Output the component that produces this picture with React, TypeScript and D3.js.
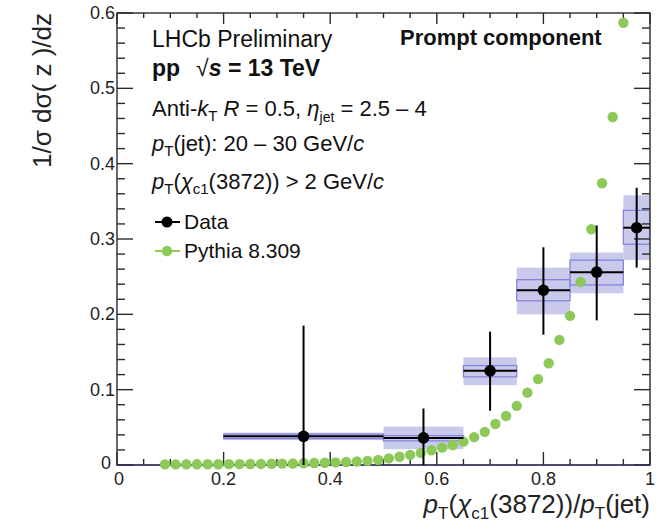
import React from 'react';
import * as d3 from 'd3';

// ---------- data ----------
const binLo = [0.2, 0.5, 0.65, 0.75, 0.85, 0.95];
const binHi = [0.5, 0.65, 0.75, 0.85, 0.95, 1.0];
const dataX = [0.35, 0.575, 0.7, 0.8, 0.9, 0.975];
const dataY = [0.038, 0.036, 0.125, 0.232, 0.256, 0.315];
const statLo = [0.0, 0.0, 0.072, 0.173, 0.192, 0.262];
const statHi = [0.185, 0.075, 0.177, 0.289, 0.318, 0.368];
const sysLo = [0.033, 0.021, 0.106, 0.2, 0.228, 0.272];
const sysHi = [0.043, 0.051, 0.143, 0.262, 0.282, 0.358];
const sys2Lo = [0.035, 0.032, 0.117, 0.218, 0.239, 0.293];
const sys2Hi = [0.041, 0.039, 0.132, 0.246, 0.272, 0.338];

const pythiaX = [
  0.09, 0.11, 0.13, 0.15, 0.17, 0.19, 0.21, 0.23, 0.25, 0.27, 0.29,
  0.31, 0.33, 0.35, 0.37, 0.39, 0.41, 0.43, 0.45, 0.47, 0.49,
  0.51, 0.53, 0.55, 0.57, 0.59, 0.61, 0.63, 0.65, 0.67, 0.69,
  0.71, 0.73, 0.75, 0.77, 0.79, 0.81, 0.83, 0.85, 0.87, 0.89,
  0.91, 0.93, 0.95,
];
const pythiaY = [
  0.0008, 0.0008, 0.0009, 0.0009, 0.001, 0.001, 0.0011, 0.0012, 0.0013, 0.0014, 0.0016,
  0.0018, 0.002, 0.0023, 0.0026, 0.003, 0.0034, 0.004, 0.0046, 0.0055, 0.0068,
  0.0088, 0.011, 0.0135, 0.016, 0.0195, 0.023, 0.0265, 0.031, 0.037, 0.044,
  0.0545, 0.065, 0.0785, 0.096, 0.114, 0.135, 0.166, 0.198, 0.243, 0.313,
  0.374, 0.462, 0.587,
];

const xMajor = [0, 0.2, 0.4, 0.6, 0.8, 1];
const xMajorLabels = ['0', '0.2', '0.4', '0.6', '0.8', '1'];
const yMajor = [0, 0.1, 0.2, 0.3, 0.4, 0.5, 0.6];
const yMajorLabels = ['0', '0.1', '0.2', '0.3', '0.4', '0.5', '0.6'];

// ---------- layout ----------
const W = 659;
const H = 529;
const L = 117;
const R = 650;
const T = 13;
const B = 465;

const FONT = '"Liberation Sans", Arial, Helvetica, sans-serif';
const GREEN = '#8dc958';
const BOXFILL = '#c9c9ec';
const BOXLINE = '#8484de';

export default function App() {
  const x = d3.scaleLinear().domain([0, 1]).range([L, R]);
  const y = d3.scaleLinear().domain([0, 0.6]).range([B, T]);

  const xMinor = d3.range(0, 1.0001, 0.05).filter((v) => Math.abs(v / 0.2 - Math.round(v / 0.2)) > 1e-6);
  const yMinor = d3.range(0, 0.6001, 0.02).filter((v) => Math.abs(v / 0.1 - Math.round(v / 0.1)) > 1e-6);

  const idx = d3.range(dataX.length);

  return (
    <svg
      width={W}
      height={H}
      style={{ position: 'absolute', left: 0, top: 0, background: '#fff' }}
      fontFamily={FONT}
    >
      <defs>
        <clipPath id="plotclip">
          <rect x={L} y={T} width={R - L} height={B - T} />
        </clipPath>
        <clipPath id="topclip">
          <rect x={L} y={T} width={R - L} height={H - T} />
        </clipPath>
      </defs>
      <rect x={0} y={0} width={W} height={H} fill="#fff" />

      {/* systematic boxes */}
      <g clipPath="url(#plotclip)">
        {idx.map((i) => (
          <rect
            key={'s' + i}
            x={x(binLo[i])}
            y={y(sysHi[i])}
            width={x(binHi[i]) - x(binLo[i])}
            height={y(sysLo[i]) - y(sysHi[i])}
            fill={BOXFILL}
          />
        ))}
        {idx.map((i) => (
          <rect
            key={'s2' + i}
            x={x(binLo[i])}
            y={y(sys2Hi[i])}
            width={x(binHi[i]) - x(binLo[i])}
            height={y(sys2Lo[i]) - y(sys2Hi[i])}
            fill="none"
            stroke={BOXLINE}
            strokeWidth={1.3}
          />
        ))}
      </g>

      {/* frame + ticks */}
      <g stroke="#2a2a2a" strokeWidth={1.4} fill="none">
        <rect x={L} y={T} width={R - L} height={B - T} />
        {xMajor.map((v, i) => (
          <g key={'xm' + i}>
            <line x1={x(v)} x2={x(v)} y1={B} y2={B - 13} />
            <line x1={x(v)} x2={x(v)} y1={T} y2={T + 11} />
          </g>
        ))}
        {xMinor.map((v, i) => (
          <g key={'xn' + i}>
            <line x1={x(v)} x2={x(v)} y1={B} y2={B - 6} />
            <line x1={x(v)} x2={x(v)} y1={T} y2={T + 5} />
          </g>
        ))}
        {yMajor.map((v, i) => (
          <g key={'ym' + i}>
            <line x1={L} x2={L + 16} y1={y(v)} y2={y(v)} />
            <line x1={R} x2={R - 16} y1={y(v)} y2={y(v)} />
          </g>
        ))}
        {yMinor.map((v, i) => (
          <g key={'yn' + i}>
            <line x1={L} x2={L + 8} y1={y(v)} y2={y(v)} />
            <line x1={R} x2={R - 8} y1={y(v)} y2={y(v)} />
          </g>
        ))}
      </g>
      <line x1={x(0)} x2={x(1)} y1={y(0)} y2={y(0)} stroke="#2b2b7a" strokeWidth={1.2} />

      {/* pythia */}
      <g clipPath="url(#topclip)">
        {pythiaX.map((px, i) => (
          <circle key={'p' + i} cx={x(px)} cy={y(pythiaY[i])} r={5.2} fill={GREEN} />
        ))}
      </g>

      {/* data */}
      <g stroke="#000" strokeWidth={2}>
        {idx.map((i) => (
          <g key={'d' + i}>
            <line x1={x(binLo[i])} x2={x(binHi[i])} y1={y(dataY[i])} y2={y(dataY[i])} />
            <line x1={x(dataX[i])} x2={x(dataX[i])} y1={y(statLo[i])} y2={y(statHi[i])} />
          </g>
        ))}
      </g>
      {idx.map((i) => (
        <circle key={'dc' + i} cx={x(dataX[i])} cy={y(dataY[i])} r={5.8} fill="#000" />
      ))}

      {/* tick labels */}
      <g fontSize={18} fill="#222">
        {xMajor.map((v, i) => (
          <text key={'xl' + i} x={x(v) + (v === 0 ? 2 : 0)} y={B + 20} textAnchor="middle">
            {xMajorLabels[i]}
          </text>
        ))}
        {yMajor.map((v, i) => (
          <text
            key={'yl' + i}
            x={L - (v === 0 ? 6 : 2)}
            y={y(v) + (v === 0 ? 4 : 6)}
            textAnchor="end"
          >
            {yMajorLabels[i]}
          </text>
        ))}
      </g>

      {/* axis titles */}
      <text
        transform={`translate(51,${T}) rotate(-90)`}
        textAnchor="end"
        fontSize={26}
        fill="#222"
      >
        1/σ dσ( z )/dz
      </text>
      <text x={R} y={513} textAnchor="end" fontSize={26} fill="#222">
        <tspan fontStyle="italic">p</tspan>
        <tspan dy={6} fontSize={17}>T</tspan>
        <tspan dy={-6}>(</tspan>
        <tspan fontStyle="italic">χ</tspan>
        <tspan dy={6} fontSize={17}>c1</tspan>
        <tspan dy={-6}>(3872))/</tspan>
        <tspan fontStyle="italic">p</tspan>
        <tspan dy={6} fontSize={17}>T</tspan>
        <tspan dy={-6}>(jet)</tspan>
      </text>

      {/* annotations */}
      <g fill="#111">
        <text x={152} y={47} fontSize={23}>LHCb Preliminary</text>
        <text x={152} y={76} fontSize={23} fontWeight="bold">
          pp
          <tspan dx={16} fontWeight="normal">√</tspan>
          <tspan fontStyle="italic">s</tspan>
          <tspan> = 13 TeV</tspan>
        </text>
        <text x={400} y={45} fontSize={22} fontWeight="bold">Prompt component</text>

        <text x={152} y={116} fontSize={22}>
          Anti-
          <tspan fontStyle="italic">k</tspan>
          <tspan dy={5} fontSize={15}>T</tspan>
          <tspan dy={-5} fontStyle="italic"> R</tspan>
          <tspan> = 0.5, </tspan>
          <tspan fontStyle="italic">η</tspan>
          <tspan dy={6} fontSize={14}>jet</tspan>
          <tspan dy={-6}> = 2.5 – 4</tspan>
        </text>
        <text x={152} y={151} fontSize={22}>
          <tspan fontStyle="italic">p</tspan>
          <tspan dy={5} fontSize={15}>T</tspan>
          <tspan dy={-5}>(jet): 20 – 30 GeV/</tspan>
          <tspan fontStyle="italic">c</tspan>
        </text>
        <text x={152} y={189} fontSize={22}>
          <tspan fontStyle="italic">p</tspan>
          <tspan dy={5} fontSize={15}>T</tspan>
          <tspan dy={-5}>(</tspan>
          <tspan fontStyle="italic">χ</tspan>
          <tspan dy={5} fontSize={15}>c1</tspan>
          <tspan dy={-5}>(3872)) &gt; 2 GeV/</tspan>
          <tspan fontStyle="italic">c</tspan>
        </text>

        {/* legend */}
        <line x1={155} x2={180} y1={222} y2={222} stroke="#000" strokeWidth={2} />
        <circle cx={167} cy={222} r={5.5} fill="#000" />
        <text x={184} y={229} fontSize={21}>Data</text>
        <line x1={155} x2={180} y1={251} y2={251} stroke={GREEN} strokeWidth={2} />
        <circle cx={167} cy={251} r={5.2} fill={GREEN} />
        <text x={184} y={258} fontSize={21}>Pythia 8.309</text>
      </g>
    </svg>
  );
}
